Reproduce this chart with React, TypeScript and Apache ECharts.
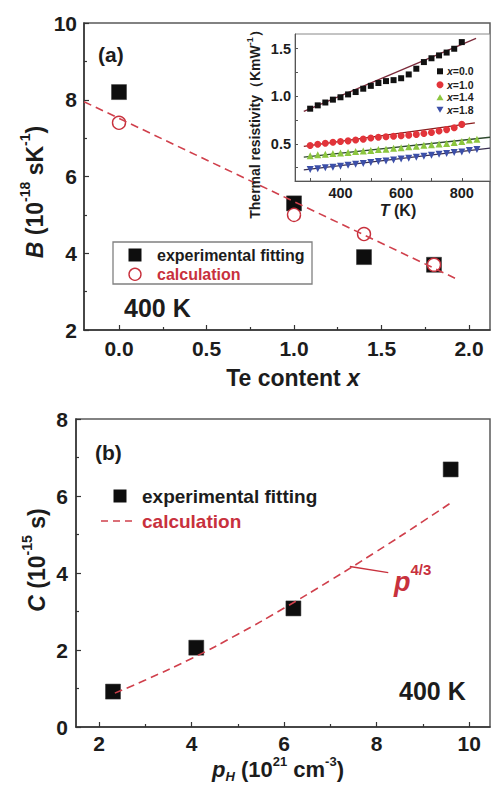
import React, { useEffect, useRef } from "react";
import * as echarts from "echarts";

// ---------- Panel (a): B vs Te content ----------
const teContent = [0.0, 1.0, 1.4, 1.8];
const bExperimental = [8.2, 5.3, 3.9, 3.7];
const bCalculation = [7.4, 5.0, 4.5, 3.7];
const bCalcLineX = [-0.2, 1.92];
const bCalcLineY = [7.95, 3.35];
const aXLabels = [0, 0.5, 1.0, 1.5, 2.0];
const aXMinor = [0.25, 0.75, 1.25, 1.75];

// ---------- Inset: thermal resistivity vs T ----------
const insetT21 = [300, 325, 350, 375, 400, 425, 450, 475, 500, 525, 550, 575, 600, 625, 650, 675, 700, 725, 750, 775, 800];
const insetT23 = [300, 325, 350, 375, 400, 425, 450, 475, 500, 525, 550, 575, 600, 625, 650, 675, 700, 725, 750, 775, 800, 825, 850];
const res00 = [0.87, 0.905, 0.935, 0.965, 0.99, 1.02, 1.045, 1.08, 1.11, 1.14, 1.16, 1.17, 1.19, 1.23, 1.29, 1.36, 1.4, 1.43, 1.46, 1.5, 1.57];
const res10 = [0.483, 0.497, 0.507, 0.518, 0.525, 0.532, 0.54, 0.55, 0.562, 0.569, 0.575, 0.58, 0.585, 0.592, 0.6, 0.61, 0.62, 0.635, 0.65, 0.67, 0.705];
const res14 = [0.375, 0.385, 0.39, 0.4, 0.405, 0.41, 0.42, 0.425, 0.43, 0.44, 0.445, 0.455, 0.46, 0.47, 0.475, 0.485, 0.49, 0.5, 0.505, 0.515, 0.525, 0.54, 0.55];
const res18 = [0.23, 0.24, 0.25, 0.255, 0.265, 0.275, 0.285, 0.295, 0.305, 0.315, 0.32, 0.33, 0.34, 0.35, 0.36, 0.37, 0.38, 0.39, 0.4, 0.41, 0.415, 0.43, 0.44];
const fit00T = [279, 847];
const fit00R = [0.842, 1.61];
const fit10T = [279, 843];
const fit10R = [0.473, 0.72];
const fit14T = [279, 893];
const fit14R = [0.36, 0.57];
const fit18T = [279, 893];
const fit18R = [0.226, 0.455];
const insetXLabels = [400, 600, 800];
const insetXTicks = [300, 400, 500, 600, 700, 800];
const insetYLabels = [0.5, 1.0, 1.5];
const insetYTicks = [0.25, 0.5, 0.75, 1.0, 1.25, 1.5];

// ---------- Panel (b): C vs p_H ----------
const pH = [2.3, 4.1, 6.2, 9.6];
const cExperimental = [0.92, 2.06, 3.08, 6.69];
const cCalcX = [2.34, 3, 4, 5, 6, 7, 8, 9, 9.65];
const cCalcY = [0.88, 1.22, 1.78, 2.41, 3.09, 3.81, 4.56, 5.34, 5.86];
const leaderX = [7.42, 8.25];
const leaderY = [4.17, 4.01];
const bXLabels = [2, 4, 6, 8, 10];
const bXMinor = [3, 5, 7, 9];

const pts = (xs: number[], ys: number[]) => xs.map((x, i) => [x, ys[i]]);

const FONT = "'Liberation Sans', Arial, Helvetica, sans-serif";
const TXT = "#1c1c1c";
const AXC = "#333";
const RED = "#c8313d";
const DASH = "#d0404c";
const SQ = "#0e0e0e";

const tickLabel = (size: number, margin: number) => ({
  fontSize: size,
  fontWeight: "bold" as const,
  fontFamily: FONT,
  color: TXT,
  margin,
});

function titleRich(size: number, supSize: number, lh: number, color = TXT) {
  return {
    n: { fontSize: size, fontWeight: "bold", fontFamily: FONT, fill: color, lineHeight: lh },
    i: { fontSize: size, fontWeight: "bold", fontStyle: "italic", fontFamily: FONT, fill: color, lineHeight: lh },
    s: { fontSize: supSize, fontWeight: "bold", fontFamily: FONT, fill: color, lineHeight: supSize + 2, verticalAlign: "top" },
    b: { fontSize: supSize, fontWeight: "bold", fontStyle: "italic", fontFamily: FONT, fill: color, lineHeight: supSize + 2, verticalAlign: "bottom" },
  };
}

function buildOption(): any {
  const graphic: any[] = [
    // panel labels
    { type: "text", x: 98, y: 54, style: { text: "(a)", fontSize: 21, fontWeight: "bold", fontFamily: FONT, fill: TXT, align: "left", verticalAlign: "middle" } },
    { type: "text", x: 95, y: 452, style: { text: "(b)", fontSize: 21, fontWeight: "bold", fontFamily: FONT, fill: TXT, align: "left", verticalAlign: "middle" } },
    { type: "text", x: 124, y: 308, style: { text: "400 K", fontSize: 25, fontWeight: "bold", fontFamily: FONT, fill: TXT, align: "left", verticalAlign: "middle" } },
    { type: "text", x: 399, y: 691, style: { text: "400 K", fontSize: 25, fontWeight: "bold", fontFamily: FONT, fill: TXT, align: "left", verticalAlign: "middle" } },
    // axis titles panel (a)
    { type: "text", x: 293, y: 378, style: { text: "{n|Te content }{i|x}", rich: titleRich(23, 14, 30), align: "center", verticalAlign: "middle" } },
    { type: "text", x: 35, y: 192, rotation: Math.PI / 2, style: { text: "{i|B}{n| (10}{s|-18}{n| sK}{s|-1}{n|)}", rich: titleRich(23, 14, 34), align: "center", verticalAlign: "middle" } },
    // axis titles panel (b)
    { type: "text", x: 278, y: 769, style: { text: "{i|p}{b|H}{n| (10}{s|21}{n| cm}{s|-3}{n|)}", rich: titleRich(22, 13, 28), align: "center", verticalAlign: "middle" } },
    { type: "text", x: 37, y: 560, rotation: Math.PI / 2, style: { text: "{i|C}{n| (10}{s|-15}{n| s)}", rich: titleRich(23, 14, 34), align: "center", verticalAlign: "middle" } },
    // inset titles
    { type: "text", x: 255, y: 121, rotation: Math.PI / 2, z: 10, style: { text: "{n|Thermal resistivity（KmW}{s|-1}{n|）}", rich: titleRich(14, 9, 20), align: "center", verticalAlign: "middle" } },
    { type: "text", x: 398, y: 210, style: { text: "{i|T}{n| (K)}", rich: titleRich(16, 10, 20), align: "center", verticalAlign: "middle" } },
    // inset legend
    { type: "rect", z: 10, shape: { x: 437, y: 68.3, width: 6, height: 6 }, style: { fill: "#111" } },
    { type: "circle", z: 10, shape: { cx: 440, cy: 84.7, r: 3.5 }, style: { fill: "#e2343a" } },
    { type: "polygon", z: 10, shape: { points: [[436.5, 100.3], [443.5, 100.3], [440, 94.3]] }, style: { fill: "#8cc63f" } },
    { type: "polygon", z: 10, shape: { points: [[436.5, 106.7], [443.5, 106.7], [440, 112.7]] }, style: { fill: "#3c4fa8" } },
    ...["0.0", "1.0", "1.4", "1.8"].map((v, k) => ({
      type: "text", z: 10, x: 447, y: [71.3, 84.7, 97.3, 109.7][k],
      style: { text: `{i|x}{n|=${v}}`, rich: titleRich(10.5, 8, 12), align: "left", verticalAlign: "middle" },
    })),
    // legend panel (a)
    { type: "rect", shape: { x: 113, y: 242, width: 199, height: 42 }, style: { fill: "#fff", stroke: "#808080", lineWidth: 1.3 } },
    { type: "rect", shape: { x: 128.5, y: 248.5, width: 13, height: 13 }, style: { fill: SQ } },
    { type: "text", x: 157, y: 255, style: { text: "experimental fitting", fontSize: 16, fontWeight: "bold", fontFamily: FONT, fill: TXT, align: "left", verticalAlign: "middle" } },
    { type: "circle", shape: { cx: 135, cy: 274.3, r: 6 }, style: { fill: "#fff", stroke: RED, lineWidth: 1.4 } },
    { type: "text", x: 157, y: 274.3, style: { text: "calculation", fontSize: 16, fontWeight: "bold", fontFamily: FONT, fill: RED, align: "left", verticalAlign: "middle" } },
    // legend panel (b)
    { type: "rect", shape: { x: 113.5, y: 489.5, width: 13, height: 13 }, style: { fill: SQ } },
    { type: "text", x: 142, y: 496, style: { text: "experimental fitting", fontSize: 19, fontWeight: "bold", fontFamily: FONT, fill: TXT, align: "left", verticalAlign: "middle" } },
    { type: "line", shape: { x1: 101, y1: 521, x2: 137, y2: 521 }, style: { stroke: DASH, lineWidth: 1.6, lineDash: [7, 5] } },
    { type: "text", x: 142, y: 521, style: { text: "calculation", fontSize: 19, fontWeight: "bold", fontFamily: FONT, fill: RED, align: "left", verticalAlign: "middle" } },
    // p^4/3 annotation
    { type: "text", x: 394, y: 582, style: { text: "{p|p}{s|4/3}", rich: {
      p: { fontSize: 27, fontWeight: "bold", fontStyle: "italic", fontFamily: FONT, fill: RED, lineHeight: 40 },
      s: { fontSize: 15, fontWeight: "bold", fontFamily: FONT, fill: RED, lineHeight: 16, verticalAlign: "top" },
    }, align: "left", verticalAlign: "middle" } },
  ];

  const axisLine = { show: true, onZero: false, lineStyle: { color: AXC, width: 1.5 } };
  const insetAxisLine = { show: true, onZero: false, lineStyle: { color: "#555", width: 1 } };

  return {
    animation: false,
    backgroundColor: "#fff",
    grid: [
      { left: 84, top: 23, width: 406, height: 307, show: true, borderColor: "#5a5a5a", borderWidth: 1.5, backgroundColor: "transparent" },
      { left: 295, top: 34, width: 195, height: 147, show: true, borderColor: "#888", borderWidth: 1, backgroundColor: "#fff" },
      { left: 76, top: 419, width: 414, height: 308, show: true, borderColor: "#5a5a5a", borderWidth: 1.5, backgroundColor: "transparent" },
    ],
    xAxis: [
      {
        type: "value", gridIndex: 0, min: -0.2, max: 2.12, position: "bottom",
        axisLine, splitLine: { show: false },
        axisTick: { show: true, inside: true, length: 5, customValues: aXLabels, lineStyle: { color: AXC, width: 1.2 } },
        axisLabel: { ...tickLabel(21, 8), customValues: aXLabels, formatter: (v: number) => v.toFixed(1) },
      },
      {
        type: "value", gridIndex: 0, min: -0.2, max: 2.12, position: "bottom",
        axisLine: { show: false, onZero: false }, splitLine: { show: false },
        axisTick: { show: true, inside: true, length: 3, customValues: aXMinor, lineStyle: { color: AXC, width: 1.2 } },
        axisLabel: { show: false },
      },
      {
        type: "value", gridIndex: 1, min: 250, max: 893, position: "bottom",
        axisLine: insetAxisLine, splitLine: { show: false },
        axisTick: { show: true, inside: true, length: 3, customValues: insetXTicks, lineStyle: { color: "#555" } },
        axisLabel: { ...tickLabel(14.5, 4), customValues: insetXLabels },
      },
      {
        type: "value", gridIndex: 2, min: 1.5, max: 10.45, position: "bottom",
        axisLine, splitLine: { show: false },
        axisTick: { show: true, inside: true, length: 5, customValues: bXLabels, lineStyle: { color: AXC, width: 1.2 } },
        axisLabel: { ...tickLabel(21, 6), customValues: bXLabels },
      },
      {
        type: "value", gridIndex: 2, min: 1.5, max: 10.45, position: "bottom",
        axisLine: { show: false, onZero: false }, splitLine: { show: false },
        axisTick: { show: true, inside: true, length: 3, customValues: bXMinor, lineStyle: { color: AXC, width: 1.2 } },
        axisLabel: { show: false },
      },
    ],
    yAxis: [
      {
        type: "value", gridIndex: 0, min: 2, max: 10, interval: 2, position: "left",
        axisLine, splitLine: { show: false },
        axisTick: { show: true, inside: true, length: 5, lineStyle: { color: AXC, width: 1.2 } },
        minorTick: { show: true, splitNumber: 2, length: 3, lineStyle: { color: AXC, width: 1.2 } },
        axisLabel: tickLabel(21, 7),
      },
      {
        type: "value", gridIndex: 1, min: 0.11, max: 1.655, position: "left",
        axisLine: insetAxisLine, splitLine: { show: false },
        axisTick: { show: true, inside: true, length: 3, customValues: insetYTicks, lineStyle: { color: "#555" } },
        axisLabel: { ...tickLabel(14.5, 4), customValues: insetYLabels, formatter: (v: number) => v.toFixed(1) },
      },
      {
        type: "value", gridIndex: 2, min: 0, max: 8, interval: 2, position: "left",
        axisLine, splitLine: { show: false },
        axisTick: { show: true, inside: true, length: 5, lineStyle: { color: AXC, width: 1.2 } },
        minorTick: { show: true, splitNumber: 2, length: 3, lineStyle: { color: AXC, width: 1.2 } },
        axisLabel: tickLabel(21, 8),
      },
    ],
    series: [
      // panel (a)
      { type: "line", xAxisIndex: 0, yAxisIndex: 0, data: pts(bCalcLineX, bCalcLineY), symbol: "none", silent: true,
        lineStyle: { color: DASH, width: 1.6, type: [8, 5] } },
      { type: "scatter", xAxisIndex: 0, yAxisIndex: 0, data: pts(teContent, bExperimental), symbol: "rect", symbolSize: 15,
        itemStyle: { color: SQ, borderColor: "#333", borderWidth: 0.5, opacity: 1 } },
      { type: "scatter", xAxisIndex: 0, yAxisIndex: 0, data: pts(teContent, bCalculation), symbol: "circle", symbolSize: 13,
        itemStyle: { color: "#fff", borderColor: RED, borderWidth: 1.4, opacity: 1 } },
      // inset
      { type: "line", xAxisIndex: 2, yAxisIndex: 1, data: pts(fit00T, fit00R), symbol: "none", lineStyle: { color: "#7b2a3a", width: 1.3 }, z: 3 },
      { type: "line", xAxisIndex: 2, yAxisIndex: 1, data: pts(fit10T, fit10R), symbol: "none", lineStyle: { color: "#8b1e1e", width: 1.3 }, z: 3 },
      { type: "line", xAxisIndex: 2, yAxisIndex: 1, data: pts(fit14T, fit14R), symbol: "none", lineStyle: { color: "#2f4a2f", width: 1.3 }, z: 3 },
      { type: "line", xAxisIndex: 2, yAxisIndex: 1, data: pts(fit18T, fit18R), symbol: "none", lineStyle: { color: "#3a3050", width: 1.3 }, z: 3 },
      { type: "scatter", xAxisIndex: 2, yAxisIndex: 1, data: pts(insetT21, res00), symbol: "rect", symbolSize: 6, itemStyle: { color: "#111", opacity: 1 }, z: 4 },
      { type: "scatter", xAxisIndex: 2, yAxisIndex: 1, data: pts(insetT21, res10), symbol: "circle", symbolSize: 7, itemStyle: { color: "#e2343a", opacity: 1 }, z: 4 },
      { type: "scatter", xAxisIndex: 2, yAxisIndex: 1, data: pts(insetT23, res14), symbol: "triangle", symbolSize: 7, itemStyle: { color: "#8cc63f", opacity: 1 }, z: 4 },
      { type: "scatter", xAxisIndex: 2, yAxisIndex: 1, data: pts(insetT23, res18), symbol: "triangle", symbolRotate: 180, symbolSize: 7, itemStyle: { color: "#3c4fa8", opacity: 1 }, z: 4 },
      // panel (b)
      { type: "line", xAxisIndex: 3, yAxisIndex: 2, data: pts(cCalcX, cCalcY), symbol: "none", smooth: true, silent: true,
        lineStyle: { color: DASH, width: 1.6, type: [8, 5] },
        markLine: { silent: true, symbol: ["none", "none"], label: { show: false },
          lineStyle: { color: RED, width: 1.4, type: "solid" },
          data: [[{ coord: [leaderX[0], leaderY[0]] }, { coord: [leaderX[1], leaderY[1]] }]] } },
      { type: "scatter", xAxisIndex: 3, yAxisIndex: 2, data: pts(pH, cExperimental), symbol: "rect", symbolSize: 15,
        itemStyle: { color: SQ, borderColor: "#333", borderWidth: 0.5, opacity: 1 } },
    ],
    graphic,
  };
}

export default function App() {
  const ref = useRef<HTMLDivElement>(null);
  useEffect(() => {
    if (!ref.current) return;
    const chart = echarts.init(ref.current, null, { renderer: "svg" });
    chart.setOption(buildOption());
    return () => chart.dispose();
  }, []);
  return (
    <div
      ref={ref}
      style={{ position: "fixed", left: 0, top: 0, width: 492, height: 786, background: "#fff" }}
    />
  );
}
